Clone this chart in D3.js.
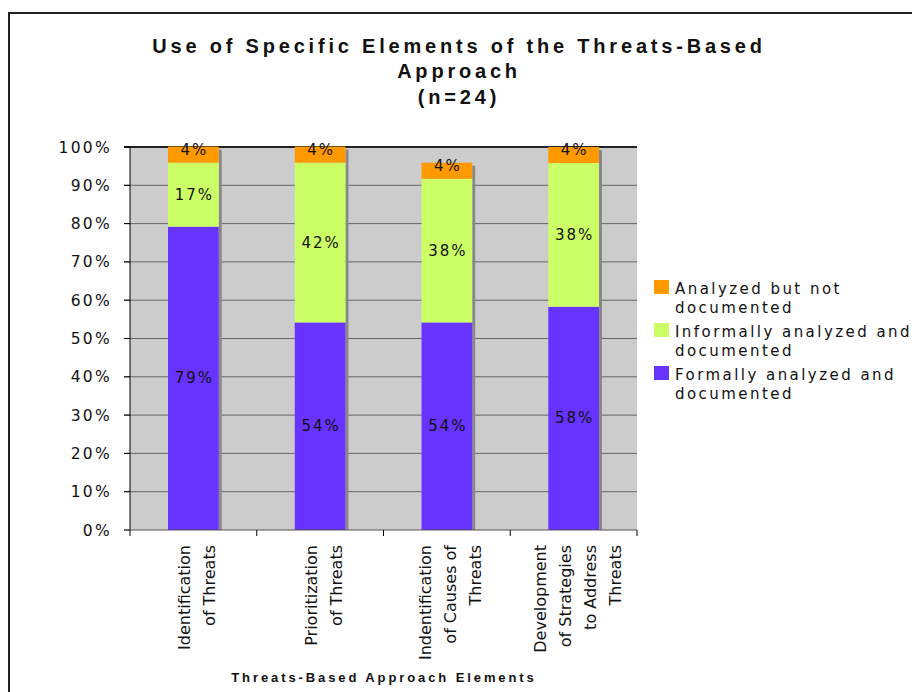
<!DOCTYPE html>
<html><head><meta charset="utf-8">
<script src="https://cdn.jsdelivr.net/npm/d3@7"></script>
<style>body{margin:0;background:#fff}svg{display:block}</style>
</head><body>
<svg id="c" width="912" height="692"></svg>
<script>
const categories = ["Identification\nof Threats", "Prioritization\nof Threats", "Indentification\nof Causes of\nThreats", "Development\nof Strategies\nto Address\nThreats"];
const formally = [79.2, 54.2, 54.2, 58.3];
const informally = [16.7, 41.7, 37.5, 37.5];
const notDocumented = [4.2, 4.2, 4.2, 4.2];
const seriesNames = ["Formally analyzed and\ndocumented", "Informally analyzed and\ndocumented", "Analyzed but not\ndocumented"];
const seriesColors = ["#6633FF", "#CCFF66", "#FF9900"];
const yTicks = [0,10,20,30,40,50,60,70,80,90,100];
const titleLines = ["Use of Specific Elements of the Threats-Based", "Approach", "(n=24)"];
const xTitle = "Threats-Based Approach Elements";

const svg = d3.select("#c");
const font = "'DejaVu Sans', Verdana, sans-serif";

// frame
svg.append("rect").attr("x",9).attr("y",13).attr("width",920).attr("height",700)
  .attr("fill","none").attr("stroke","#222").attr("stroke-width",2);

const L=130, R=637, T=147, B=530;
const x = d3.scaleBand().domain(d3.range(categories.length)).range([L,R]).paddingInner(0.6).paddingOuter(0.3);
const step = (R-L)/categories.length;
const y = d3.scaleLinear().domain([0,100]).range([B,T]);

// plot bg
svg.append("rect").attr("x",L).attr("y",T).attr("width",R-L).attr("height",B-T).attr("fill","#CCCCCC");

// gridlines
svg.append("g").selectAll("line").data(yTicks.filter(d=>d>0)).join("line")
  .attr("x1",L-6).attr("x2",R).attr("y1",d=>y(d)).attr("y2",d=>y(d))
  .attr("stroke",d=>d===100?"#222":"#666").attr("stroke-width",d=>d===100?2:1);

// stacked data
const rows = categories.map((c,i)=>({i, f:formally[i], inf:informally[i], nd:notDocumented[i]}));
const stack = d3.stack().keys(["f","inf","nd"])(rows);

// shadows
svg.append("g").selectAll("rect").data(rows).join("rect")
  .attr("x",d=>x(d.i)+x.bandwidth()).attr("width",3)
  .attr("y",d=>y(d.f+d.inf+d.nd)+3).attr("height",d=>B-(y(d.f+d.inf+d.nd)+3))
  .attr("fill","#888");

const segG = svg.append("g");
stack.forEach((s,si)=>{
  segG.append("g").selectAll("rect").data(s).join("rect")
    .attr("x",(d,i)=>x(i)).attr("width",x.bandwidth())
    .attr("y",d=>y(d[1])).attr("height",d=>y(d[0])-y(d[1]))
    .attr("fill",seriesColors[si]);
});
// labels
stack.forEach((s,si)=>{
  segG.append("g").selectAll("text").data(s).join("text")
    .attr("x",(d,i)=>x(i)+x.bandwidth()/2+1)
    .attr("y",d=>(y(d[0])+y(d[1]))/2+ (si===2?0:5))
    .attr("text-anchor","middle").attr("font-family",font).attr("font-size",15)
    .attr("letter-spacing",2).attr("fill","#111")
    .text(d=>Math.round(d[1]-d[0])+"%");
});

// axes
svg.append("line").attr("x1",L).attr("x2",L).attr("y1",T).attr("y2",B).attr("stroke","#000");
svg.append("g").selectAll("line").data(yTicks).join("line")
  .attr("x1",L-6).attr("x2",L).attr("y1",d=>y(d)).attr("y2",d=>y(d)).attr("stroke","#000");
svg.append("line").attr("x1",L-6).attr("x2",R).attr("y1",B).attr("y2",B).attr("stroke","#555");
svg.append("g").selectAll("line").data(d3.range(categories.length+1)).join("line")
  .attr("x1",d=>L+d*step).attr("x2",d=>L+d*step).attr("y1",B).attr("y2",B+6).attr("stroke","#000");

svg.append("g").selectAll("text").data(yTicks).join("text")
  .attr("x",112).attr("y",d=>y(d)+5.5).attr("text-anchor","end")
  .attr("font-family",font).attr("font-size",15.5).attr("letter-spacing",2.3).attr("fill","#111")
  .text(d=>d+"%");

// category labels
categories.forEach((c,i)=>{
  const lines = c.split("\n");
  const cx = x(i)+x.bandwidth()/2+3;
  lines.forEach((ln,j)=>{
    const bx = cx - (lines.length-1)/2*25 + j*25 + 6.5;
    svg.append("text").attr("transform",`translate(${bx},545) rotate(-90)`)
      .attr("text-anchor","end").attr("font-family",font).attr("font-size",16).attr("fill","#111")
      .text(ln);
  });
});

// x title
svg.append("text").attr("x",384).attr("y",682).attr("text-anchor","middle")
  .attr("font-family","'Liberation Sans', Arial, sans-serif").attr("font-weight","bold")
  .attr("font-size",13).attr("letter-spacing",2.9).attr("fill","#111").text(xTitle);

// title
titleLines.forEach((t,i)=>{
  svg.append("text").attr("x",459).attr("y",[53,78,104][i]).attr("text-anchor","middle")
    .attr("font-family","'Liberation Sans', Arial, sans-serif").attr("font-weight","bold")
    .attr("font-size",20).attr("letter-spacing",3.8).attr("fill","#111").text(t);
});

// legend
const legOrder = [2,1,0];
legOrder.forEach((si,k)=>{
  const y0 = 280 + k*43;
  svg.append("rect").attr("x",654).attr("y",y0).attr("width",15).attr("height",14).attr("fill",seriesColors[si]);
  seriesNames[si].split("\n").forEach((ln,j)=>{
    svg.append("text").attr("x",675).attr("y",y0+14+j*19)
      .attr("font-family",font).attr("font-size",15).attr("letter-spacing",2.45).attr("fill","#111").text(ln);
  });
});
</script>
</body></html>
